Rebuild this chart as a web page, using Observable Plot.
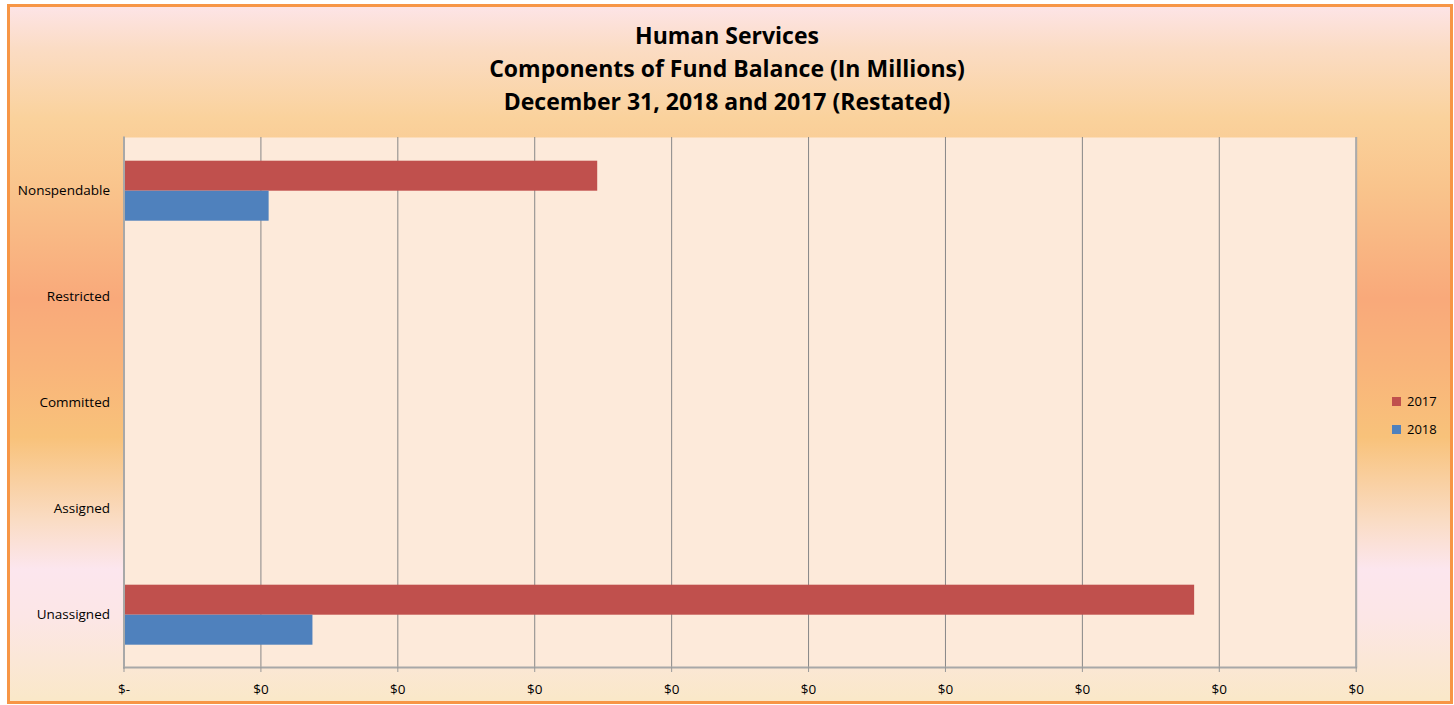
<!DOCTYPE html>
<html>
<head>
<meta charset="utf-8">
<script src="https://cdn.jsdelivr.net/npm/d3@7"></script>
<script src="https://cdn.jsdelivr.net/npm/@observablehq/plot@0.6"></script>
<style>
  html, body { margin: 0; padding: 0; background: #fff; }
  #wrap { position: relative; width: 1454px; height: 705px; overflow: hidden; font-family: "Open Sans", Lato, sans-serif; }
  #card {
    position: absolute; left: 7px; top: 4px; width: 1440px; height: 694px;
    border: 3px solid #F79646;
    background: linear-gradient(to bottom,
      #FDE4E6 0%, #FBDCC4 6%, #FAD29C 16%, #F9C48C 26%, #F9A97A 42%,
      #F9B47A 52%, #F8C27A 62%, #FADCC4 74%, #FCE6EE 81%, #FCE6E6 88%, #FAE8C8 100%);
  }
  #title { position: absolute; left: 0; width: 1454px; top: 19px; text-align: center;
    font-weight: bold; font-size: 23px; line-height: 33px; color: #000; }
  #chart { position: absolute; left: 0; top: 0; }
  #legend { position: absolute; left: 1392px; top: 387px; font-size: 13px; color: #000; }
  .li { display: flex; align-items: center; height: 28px; }
  .sw { width: 9px; height: 9px; margin-right: 6px; }
</style>
</head>
<body>
<div id="wrap">
  <div id="card"></div>
  <div id="title">Human Services<br>Components of Fund Balance (In Millions)<br>December 31, 2018 and 2017 (Restated)</div>
  <div id="chart"></div>
  <div id="legend"></div>
</div>
<script>
const categories = ["Nonspendable", "Restricted", "Committed", "Assigned", "Unassigned"];
const series = ["2017", "2018"];
const values2017 = [0.173, 0, 0, 0, 0.391];
const values2018 = [0.053, 0, 0, 0, 0.069];
const xTicks = [0, 0.05, 0.10, 0.15, 0.20, 0.25, 0.30, 0.35, 0.40, 0.45];
const colors = {"2017": "#C0504D", "2018": "#4F81BD"};

const d2017 = categories.map((c, i) => ({category: c, series: "2017", value: values2017[i]}));
const d2018 = categories.map((c, i) => ({category: c, series: "2018", value: values2018[i]}));

const chart = Plot.plot({
  width: 1454,
  height: 705,
  marginLeft: 123.5,
  marginRight: 98.3,
  marginTop: 137,
  marginBottom: 38,
  style: {background: "transparent", fontFamily: "'Open Sans', Lato, sans-serif", fontSize: "13.5px", color: "#000"},
  x: {domain: [0, 0.45], ticks: xTicks, label: null},
  y: {domain: categories, padding: 0, label: null},
  marks: [
    Plot.frame({fill: "#FDEADA", stroke: null}),
    Plot.ruleX(xTicks.slice(1), {stroke: "#878787", strokeWidth: 1}),
    Plot.ruleX(xTicks.slice(-1), {stroke: "#ABABAB", strokeWidth: 2}),
    Plot.barX(d2017, {x: "value", y: "category", fill: colors["2017"], insetTop: 23.7, insetBottom: 52.3}),
    Plot.barX(d2018, {x: "value", y: "category", fill: colors["2018"], insetTop: 53.7, insetBottom: 22.3}),
    Plot.frame({anchor: "bottom", stroke: "#A8A8A8", strokeWidth: 2}),
    Plot.frame({anchor: "left", stroke: "#A8A8A8", strokeWidth: 2}),
    Plot.axisX({ticks: xTicks, tickSize: 5, tickPadding: 12, stroke: "#999", tickFormat: d => d === 0 ? "$-" : "$0", fontSize: 13.5, label: null}),
    Plot.axisY({tickSize: 0, tickPadding: 14, fontSize: 13.5, label: null})
  ]
});
document.getElementById("chart").appendChild(chart);

const legend = document.getElementById("legend");
series.forEach(s => {
  const row = document.createElement("div");
  row.className = "li";
  row.innerHTML = `<span class="sw" style="background:${colors[s]}"></span><span>${s}</span>`;
  legend.appendChild(row);
});
</script>
</body>
</html>
